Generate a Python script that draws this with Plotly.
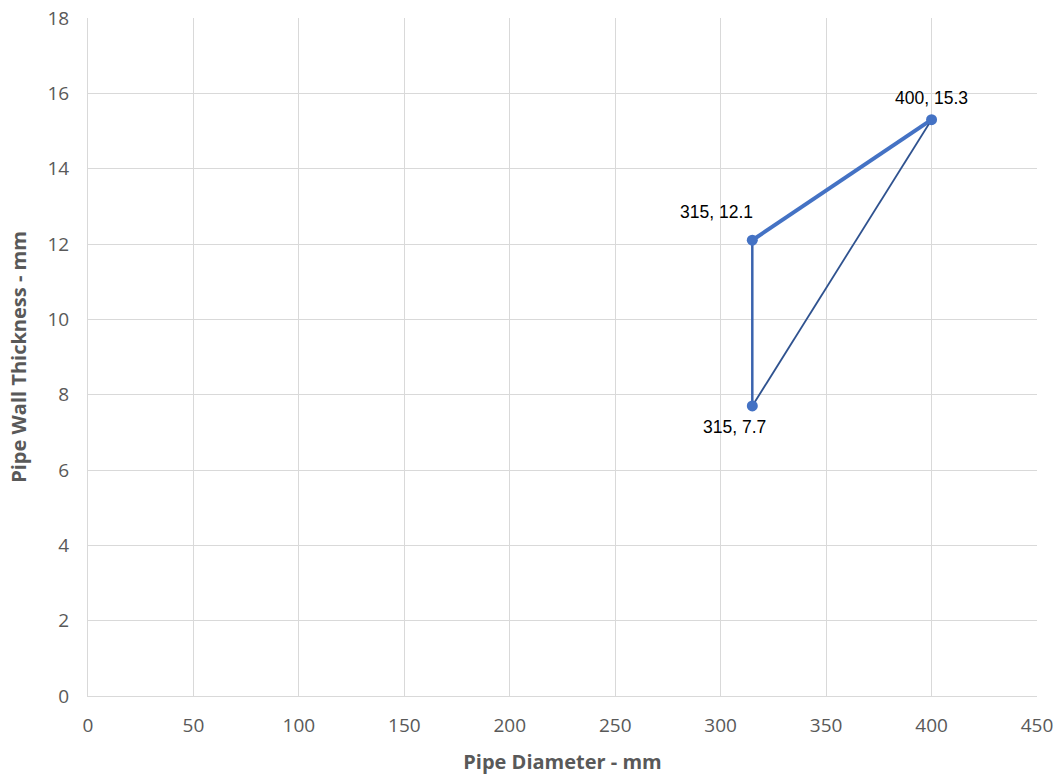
import plotly.graph_objects as go

diameter = [315, 400, 315]
thickness = [12.1, 15.3, 7.7]
labels = ["315, 12.1", "400, 15.3", "315, 7.7"]

x_ticks = [0, 50, 100, 150, 200, 250, 300, 350, 400, 450]
y_ticks = [0, 2, 4, 6, 8, 10, 12, 14, 16, 18]

fig = go.Figure()

# segment 1: thick lighter blue
fig.add_trace(go.Scatter(x=[diameter[0], diameter[1]], y=[thickness[0], thickness[1]],
                         mode="lines", line=dict(color="#4472C4", width=4), showlegend=False))
# segment 2: thin darker
fig.add_trace(go.Scatter(x=[diameter[1], diameter[2]], y=[thickness[1], thickness[2]],
                         mode="lines", line=dict(color="#2F528F", width=1.8), showlegend=False))
# segment 3: medium
fig.add_trace(go.Scatter(x=[diameter[2], diameter[0]], y=[thickness[2], thickness[0]],
                         mode="lines", line=dict(color="#3A63AE", width=2.5), showlegend=False))
# markers
fig.add_trace(go.Scatter(x=diameter, y=thickness, mode="markers",
                         marker=dict(color="#4472C4", size=11), showlegend=False))

shifts = [(-36, 28), (0, 22), (-18, -21)]
for xv, yv, t, (dx, dy) in zip(diameter, thickness, labels, shifts):
    fig.add_annotation(x=xv, y=yv, text=t, showarrow=False, xshift=dx, yshift=dy,
                       font=dict(family="Liberation Sans, Arial", size=17.5, color="#000000"))

tick_font = dict(family="Open Sans, Calibri, sans-serif", size=19, color="#595959")
title_font = dict(family="Open Sans, Calibri, sans-serif", size=20, color="#595959")

axis_common = dict(showgrid=True, gridcolor="#D9D9D9", gridwidth=1, zeroline=False,
                   showline=True, linecolor="#D9D9D9", linewidth=1, ticks="",
                   tickfont=tick_font, automargin=False)

fig.update_xaxes(range=[0, 450], tickvals=x_ticks, ticktext=[str(v) for v in x_ticks],
                 ticklabelstandoff=12,
                 title=dict(text="<b>Pipe Diameter - mm</b>", standoff=18, font=title_font),
                 **axis_common)
fig.update_yaxes(range=[0, 18], tickvals=y_ticks, ticktext=[str(v) for v in y_ticks],
                 ticklabelstandoff=14,
                 title=dict(text="<b>Pipe Wall Thickness - mm</b>", standoff=15, font=title_font),
                 **axis_common)

fig.update_layout(width=1063, height=778, plot_bgcolor="white", paper_bgcolor="white",
                  margin=dict(l=88, r=26, t=18, b=82))

fig.write_html("out.html", config={"displayModeBar": False},
               post_script="document.body.style.margin='0';document.body.style.overflow='hidden';")
